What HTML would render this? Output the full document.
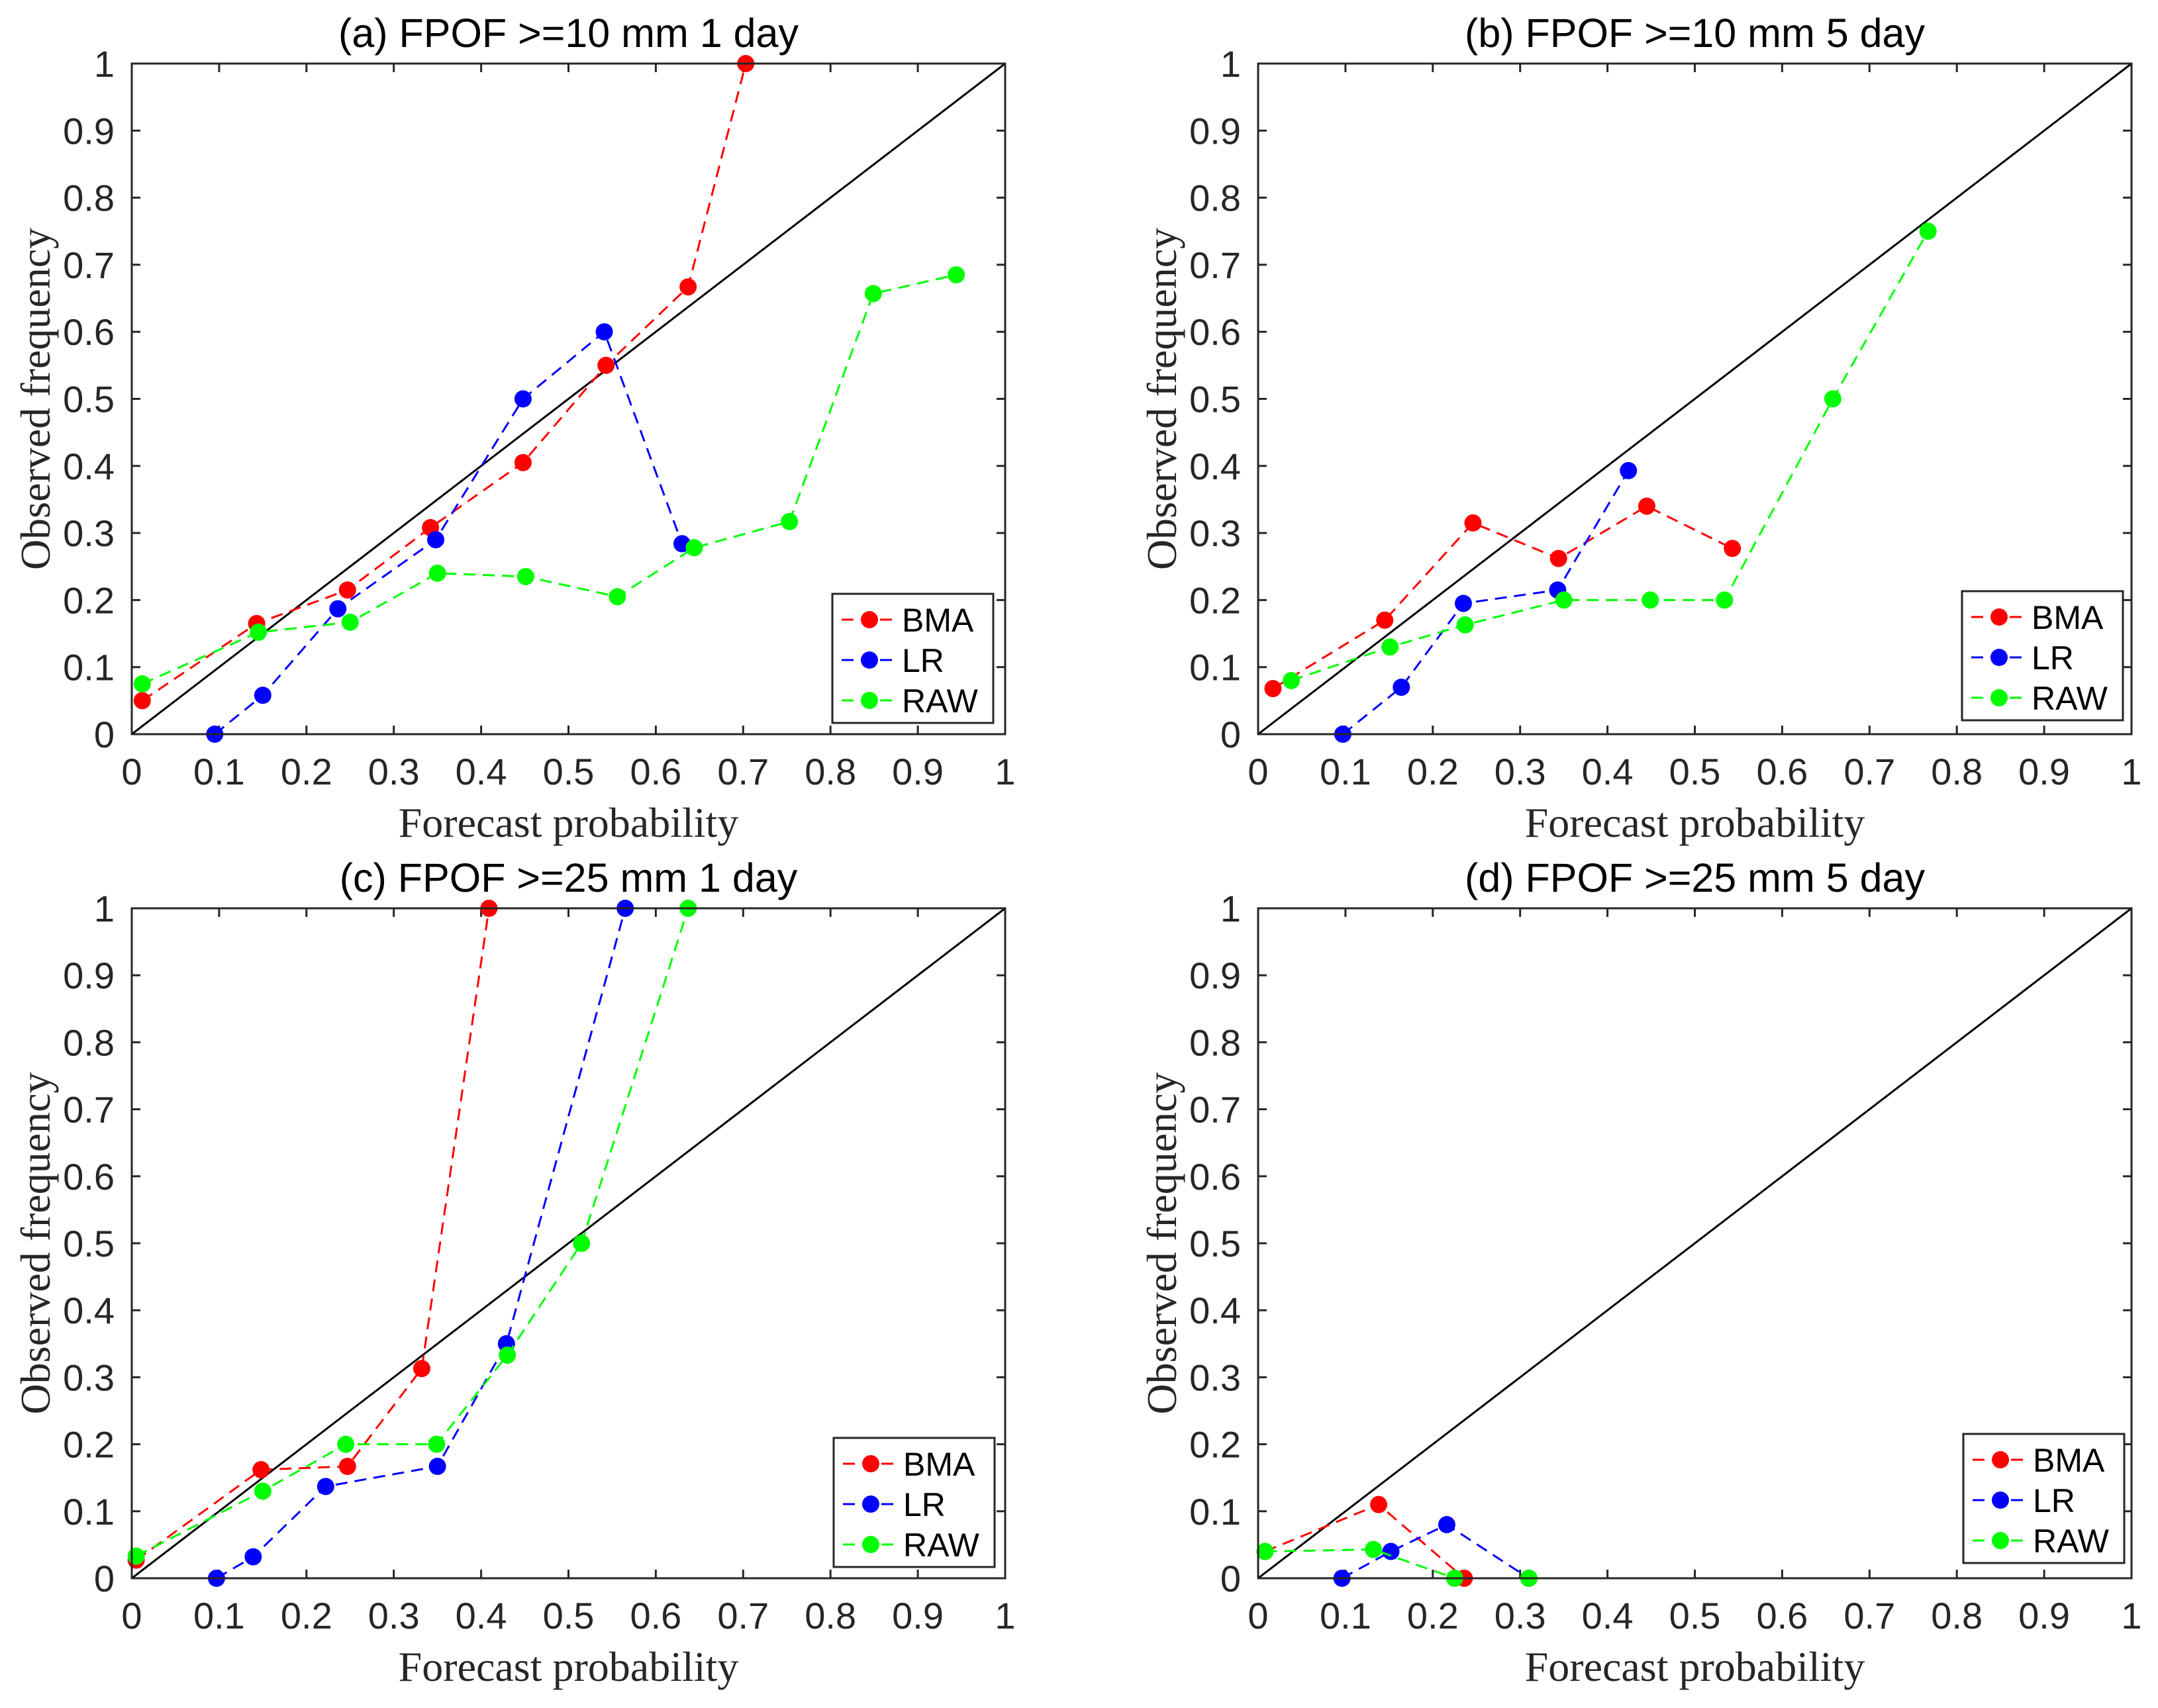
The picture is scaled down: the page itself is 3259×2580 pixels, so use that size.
<!DOCTYPE html>
<html><head><meta charset="utf-8"><style>
body{margin:0;background:#fff}
svg{display:block}
.tick{font-family:"Liberation Sans",sans-serif;font-size:56px;fill:#262626}
.title{font-family:"Liberation Sans",sans-serif;font-size:61px;fill:#000}
.lab{font-family:"Liberation Serif",serif;font-size:64px;fill:#262626}
.leg{font-family:"Liberation Sans",sans-serif;font-size:50px;fill:#000}
</style></head><body>
<svg id="fig" width="3259" height="2580" viewBox="0 0 3259 2580" xmlns="http://www.w3.org/2000/svg"></svg>
<script>
const panelTitles = ["(a) FPOF >=10 mm 1 day","(b) FPOF >=10 mm 5 day","(c) FPOF >=25 mm 1 day","(d) FPOF >=25 mm 5 day"];
const tickLabels = ["0","0.1","0.2","0.3","0.4","0.5","0.6","0.7","0.8","0.9","1"];
const tickValues = [0,0.1,0.2,0.3,0.4,0.5,0.6,0.7,0.8,0.9,1];
const seriesNames = ["BMA","LR","RAW"];
const seriesColors = ["#ff0000","#0000ff","#00ff00"];
// panel a
const aBMAx=[0.012,0.143,0.247,0.342,0.448,0.543,0.637,0.703];
const aBMAy=[0.05,0.165,0.215,0.308,0.405,0.55,0.667,1.0];
const aLRx=[0.095,0.15,0.236,0.348,0.448,0.541,0.63];
const aLRy=[0,0.058,0.187,0.29,0.5,0.6,0.284];
const aRAWx=[0.012,0.145,0.25,0.35,0.451,0.556,0.644,0.753,0.849,0.944];
const aRAWy=[0.075,0.152,0.167,0.24,0.235,0.205,0.278,0.317,0.657,0.685];
// panel b
const bBMAx=[0.017,0.145,0.246,0.344,0.445,0.543];
const bBMAy=[0.068,0.17,0.315,0.262,0.34,0.277];
const bLRx=[0.097,0.164,0.235,0.343,0.424];
const bLRy=[0,0.07,0.195,0.215,0.393];
const bRAWx=[0.038,0.151,0.237,0.35,0.449,0.534,0.658,0.767];
const bRAWy=[0.08,0.13,0.163,0.2,0.2,0.2,0.5,0.75];
// panel c
const cBMAx=[0.005,0.148,0.247,0.332,0.409];
const cBMAy=[0.027,0.162,0.167,0.313,1.0];
const cLRx=[0.097,0.139,0.222,0.35,0.429,0.565];
const cLRy=[0,0.032,0.137,0.167,0.35,1.0];
const cRAWx=[0.005,0.15,0.245,0.349,0.43,0.515,0.637];
const cRAWy=[0.033,0.13,0.2,0.2,0.333,0.5,1.0];
// panel d
const dBMAx=[0.008,0.138,0.236];
const dBMAy=[0.04,0.11,0];
const dLRx=[0.096,0.152,0.216,0.31];
const dLRy=[0,0.04,0.08,0];
const dRAWx=[0.008,0.132,0.225,0.31];
const dRAWy=[0.04,0.043,0,0];

const panelSeries=[
 [[aBMAx,aBMAy],[aLRx,aLRy],[aRAWx,aRAWy]],
 [[bBMAx,bBMAy],[bLRx,bLRy],[bRAWx,bRAWy]],
 [[cBMAx,cBMAy],[cLRx,cLRy],[cRAWx,cRAWy]],
 [[dBMAx,dBMAy],[dLRx,dLRy],[dRAWx,dRAWy]]
];
const boxes=[{x0:199,y0:1109,x1:1518,y1:96,lx:1257,ly:897},
             {x0:1900,y0:1109,x1:3219,y1:96,lx:2963,ly:893},
             {x0:199,y0:2384,x1:1518,y1:1372,lx:1259,ly:2172},
             {x0:1900,y0:2384,x1:3219,y1:1372,lx:2965,ly:2166}];
const NS="http://www.w3.org/2000/svg";
const svg=document.getElementById('fig');
function mk(t,a,p){const e=document.createElementNS(NS,t);for(const k in a)e.setAttribute(k,a[k]);(p||svg).appendChild(e);return e;}
boxes.forEach((b,pi)=>{
 const g=mk('g',{});
 
 
 const sx=v=>b.x0+v*(b.x1-b.x0), sy=v=>b.y0+v*(b.y1-b.y0);
 const cx=(b.x0+b.x1)/2, cy=(b.y0+b.y1)/2;
 const t=mk('text',{x:cx,y:b.y1-25,'text-anchor':'middle',class:'title'},g);t.textContent=panelTitles[pi];
 
 
 tickValues.forEach((v,i)=>{
  mk('line',{x1:sx(v),x2:sx(v),y1:b.y0,y2:b.y0-13,stroke:'#262626','stroke-width':3},g);
  mk('line',{x1:sx(v),x2:sx(v),y1:b.y1,y2:b.y1+13,stroke:'#262626','stroke-width':3},g);
  mk('line',{y1:sy(v),y2:sy(v),x1:b.x0,x2:b.x0+13,stroke:'#262626','stroke-width':3},g);
  mk('line',{y1:sy(v),y2:sy(v),x1:b.x1,x2:b.x1-13,stroke:'#262626','stroke-width':3},g);
  const xl=mk('text',{x:sx(v),y:b.y0+76,'text-anchor':'middle',class:'tick'},g);xl.textContent=tickLabels[i];
  
  
  const yl=mk('text',{x:b.x0-26,y:sy(v)+20,'text-anchor':'end',class:'tick'},g);yl.textContent=tickLabels[i];
  
  
 });
 const xt=mk('text',{x:cx,y:b.y0+155,'text-anchor':'middle',class:'lab'},g);xt.textContent='Forecast probability';
 
 
 const yt=mk('text',{x:0,y:0,'text-anchor':'middle',class:'lab',transform:`translate(${b.x0-124},${cy}) rotate(-90)`},g);yt.textContent='Observed frequency';
 
 
 const d=mk('line',{x1:sx(0),y1:sy(0),x2:sx(1),y2:sy(1),stroke:'#000','stroke-width':3},g);
 
 
 panelSeries[pi].forEach((s,si)=>{
  const [xs,ys]=s;
  const pts=xs.map((x,i)=>sx(x)+','+sy(ys[i])).join(' ');
  const pl=mk('polyline',{points:pts,fill:'none',stroke:seriesColors[si],'stroke-width':3,'stroke-dasharray':'18,11'},g);
  
  
  xs.forEach((x,i)=>{
   const c=mk('circle',{cx:sx(x),cy:sy(ys[i]),r:13,fill:seriesColors[si]},g);
   
   
  });
 });
 mk('rect',{x:b.x0,y:b.y1,width:b.x1-b.x0,height:b.y0-b.y1,fill:'none',stroke:'#262626','stroke-width':3},g);
 const lg=mk('g',{},g);
 
 
 mk('rect',{x:b.lx,y:b.ly,width:243,height:195,fill:'#fff',stroke:'#262626','stroke-width':3},lg);
 seriesNames.forEach((n,si)=>{
  const yy=b.ly+39+si*61;
  mk('line',{x1:b.lx+14,x2:b.lx+96,y1:yy,y2:yy,stroke:seriesColors[si],'stroke-width':3,'stroke-dasharray':'18,11'},lg);
  mk('circle',{cx:b.lx+56,cy:yy,r:13,fill:seriesColors[si]},lg);
  const lt=mk('text',{x:b.lx+105,y:yy+18,class:'leg'},lg);lt.textContent=n;
  
  
 });
});
</script>
</body></html>
